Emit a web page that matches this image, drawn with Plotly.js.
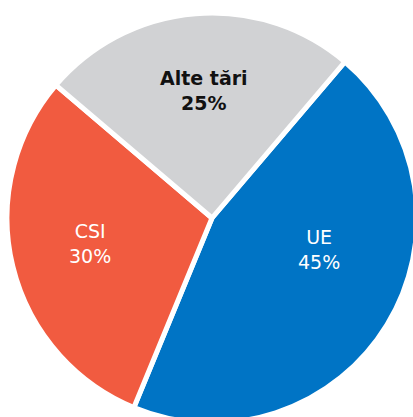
<!DOCTYPE html>
<html>
<head>
<meta charset="utf-8">
<script src="https://cdn.plot.ly/plotly-3.0.1.min.js"></script>
<style>
html,body{margin:0;padding:0;overflow:hidden;width:413px;height:417px;background:#fff;}
#chart{position:absolute;left:-8px;top:-2px;width:440px;height:440px;}
</style>
</head>
<body>
<div id="chart"></div>
<script>
const labels = ["UE", "CSI", "Alte tări"];
const values = [45, 30, 25];
const colors = ["#0074C5", "#F15B40", "#D1D2D4"];
const textColors = ["#ffffff", "#ffffff", "#111111"];
const textWeights = ["normal", "normal", "bold"];
// label block centres in window pixels (layout, not data)
const labelPos = [[319, 250], [90, 243], [204, 91]];

const DIV_L = -8, DIV_T = -2, W = 440, H = 440, M = 15;
const px2x = X => (X - DIV_L - M) / (W - 2 * M);
const px2y = Y => 1 - (Y - DIV_T - M) / (H - 2 * M);

const trace = {
  type: "pie",
  labels: labels,
  values: values,
  sort: false,
  direction: "clockwise",
  rotation: 40.4,
  marker: {colors: colors, line: {color: "#ffffff", width: 5}},
  textinfo: "none",
  hoverinfo: "none",
  showlegend: false
};

const annotations = labels.map((lab, i) => ({
  xref: "paper", yref: "paper",
  x: px2x(labelPos[i][0]), y: px2y(labelPos[i][1]),
  xanchor: "center", yanchor: "middle", showarrow: false,
  text: lab + "<br>" + values[i] + "%",
  font: {family: "DejaVu Sans, sans-serif", size: 19, color: textColors[i], weight: textWeights[i]}
}));

Plotly.newPlot("chart", [trace], {
  width: W, height: H,
  margin: {l: M, r: M, t: M, b: M},
  paper_bgcolor: "rgba(0,0,0,0)",
  showlegend: false,
  annotations: annotations
}, {staticPlot: true});
</script>
</body>
</html>
